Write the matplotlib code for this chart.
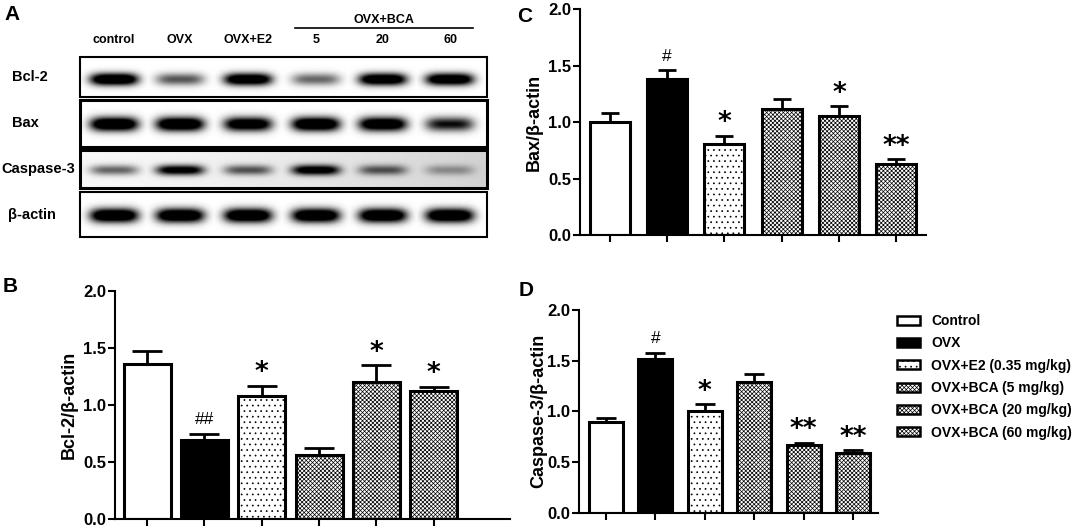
import numpy as np
import matplotlib
matplotlib.use("Agg")
import matplotlib.pyplot as plt
from matplotlib.patches import Patch, Rectangle

plt.rcParams["font.family"] = ["Liberation Sans", "DejaVu Sans"]
plt.rcParams["font.weight"] = "bold"
plt.rcParams["axes.labelweight"] = "bold"
plt.rcParams["hatch.linewidth"] = 0.5

FW, FH = 1072, 528

# groups
groups = ["Control", "OVX", "OVX+E2 (0.35 mg/kg)", "OVX+BCA (5 mg/kg)",
          "OVX+BCA (20 mg/kg)", "OVX+BCA (60 mg/kg)"]
faces = ["white", "black", "white", "white", "white", "white"]
hatches = [None, None, "...", "xxxxxxxx", "xxxxxxxx", "xxxxxxxx"]

# panel B: Bcl-2/β-actin
bcl2_mean = [1.36, 0.69, 1.08, 0.56, 1.20, 1.125]
bcl2_sem = [0.11, 0.06, 0.09, 0.065, 0.15, 0.035]
bcl2_sig = ["", "##", "*", "", "*", "*"]

# panel C: Bax/β-actin
bax_mean = [1.00, 1.385, 0.81, 1.115, 1.06, 0.63]
bax_sem = [0.08, 0.075, 0.07, 0.095, 0.08, 0.045]
bax_sig = ["", "#", "*", "", "*", "**"]

# panel D: Caspase-3/β-actin
casp_mean = [0.89, 1.52, 1.005, 1.29, 0.668, 0.592]
casp_sem = [0.045, 0.06, 0.067, 0.077, 0.023, 0.026]
casp_sig = ["", "#", "*", "", "**", "**"]

# panel A: western blot
lane_labels = ["control", "OVX", "OVX+E2", "5", "20", "60"]
row_labels = ["Bcl-2", "Bax", "Caspase-3", "β-actin"]
bcl2_band = [1.0, 0.45, 0.95, 0.40, 0.95, 0.95]
bax_band = [1.0, 1.0, 0.9, 1.0, 0.95, 0.65]
casp_band = [0.40, 0.80, 0.45, 0.85, 0.45, 0.25]
actin_band = [1.0, 1.0, 1.0, 1.0, 1.0, 1.0]


def fx(px):
    return px / FW


def fy(py):
    return 1 - py / FH


fig = plt.figure(figsize=(FW / 100, FH / 100), dpi=100)

# ---- panel A: blot ----
axa = fig.add_axes([0, fy(270), fx(520), 270 / FH])
axa.set_xlim(0, 520)
axa.set_ylim(270, 0)
axa.axis("off")

lanes_x = [114, 180, 248, 316, 383, 450]
strips = [(57.3, 96.7, 79.3, 6.0, bcl2_band, 1.5),
          (100, 146.7, 124, 7.0, bax_band, 2.2),
          (150, 188.3, 170.7, 5.0, casp_band, 2.2),
          (191.7, 237.3, 216, 7.0, actin_band, 1.5)]
label_x = [12, 12, 1, 8]
x0, x1 = 80, 487
for i, (top, bot, cy, hh, band, lw) in enumerate(strips):
    xs = np.linspace(x0, x1, 600)
    ys = np.linspace(top, bot, 80)
    X, Y = np.meshgrid(xs, ys)
    dark = np.zeros_like(X)
    for lx, b in zip(lanes_x, band):
        shape = np.exp(-np.abs((X - lx) / 24.0) ** 4) * np.exp(-((Y - cy) / hh) ** 2)
        dark = np.maximum(dark, np.clip(1.5 * b * shape, 0, 1))
    bg = np.ones_like(X)
    if i == 2:
        bg = 0.97 - 0.15 * ((X - x0) / (x1 - x0)) ** 1.5
    img = bg * (1 - dark)
    axa.imshow(img, cmap="gray", vmin=0, vmax=1, extent=(x0, x1, bot, top),
               aspect="auto", interpolation="bilinear")
    axa.add_patch(Rectangle((x0, top), x1 - x0, bot - top, fill=False,
                            edgecolor="black", linewidth=lw))
    axa.text(label_x[i], (top + bot) / 2, row_labels[i],
             ha="left", va="center", fontsize=10.5)

for lx, lab in zip(lanes_x, lane_labels):
    axa.text(lx, 40, lab, ha="center", va="center", fontsize=9)
axa.plot([295, 473], [28, 28], color="black", linewidth=1.2)
axa.text(384, 20, "OVX+BCA", ha="center", va="center", fontsize=9)


# ---- bar panels ----
def bar_panel(rect, mean, sem, sig, width, cap, xlim, ylabel, lab_x):
    ax = fig.add_axes(rect)
    x = np.arange(len(mean))
    ax.bar(x, mean, width=width, color=faces, edgecolor="black",
           hatch=hatches, linewidth=2.2, zorder=2)
    ax.errorbar(x, mean, yerr=[np.zeros(len(sem)), sem], fmt="none",
                ecolor="black", elinewidth=2, capsize=cap, capthick=2, zorder=3)
    for xi, m, s, t in zip(x, mean, sem, sig):
        if not t:
            continue
        if "#" in t:
            ax.annotate(t, (xi, m + s), xytext=(0, 10), textcoords="offset points",
                        ha="center", va="center", fontsize=12.5, fontweight="normal")
        else:
            ax.annotate(t, (xi, m + s), xytext=(0, 9), textcoords="offset points",
                        ha="center", va="center", fontsize=19,
                        family="DejaVu Sans", fontweight="bold")
    ax.set_xlim(*xlim)
    ax.set_ylim(0, 2.0)
    ax.set_yticks([0, 0.5, 1.0, 1.5, 2.0])
    ax.set_yticklabels([f"{v:.1f}" for v in [0, 0.5, 1.0, 1.5, 2.0]], fontsize=12)
    ax.set_xticks(x)
    ax.set_xticklabels([])
    ax.tick_params(length=5, width=1.5, direction="out")
    ax.tick_params(axis="y", pad=1.5)
    for s in ["top", "right"]:
        ax.spines[s].set_visible(False)
    for s in ["left", "bottom"]:
        ax.spines[s].set_linewidth(1.5)
    ax.set_ylabel(ylabel, fontsize=13)
    ax.yaxis.set_label_coords(lab_x, 0.5)
    return ax


bar_panel([fx(115), fy(519), fx(510 - 115), 228 / FH], bcl2_mean, bcl2_sem,
          bcl2_sig, 0.82, 11, (-0.56, 6.33), "Bcl-2/β-actin", -0.094)
bar_panel([fx(580), fy(235.3), fx(346), 226 / FH], bax_mean, bax_sem,
          bax_sig, 0.70, 6.5, (-0.52, 5.52), "Bax/β-actin", -0.107)
axd = bar_panel([fx(579.3), fy(512.7), fx(299), 202.7 / FH], casp_mean, casp_sem,
                casp_sig, 0.69, 7, (-0.54, 5.51), "Caspase-3/β-actin", -0.108)

handles = [Patch(facecolor=f, edgecolor="black", hatch=h, linewidth=1.8)
           for f, h in zip(faces, hatches)]
fig.legend(handles, groups, loc="upper left", bbox_to_anchor=(fx(896.7), fy(314)),
           frameon=False, fontsize=10, handlelength=1.65, handleheight=0.6,
           handletextpad=0.85, labelspacing=0.6, borderpad=0, borderaxespad=0)

# panel letters
for lab, px, py in [("A", 12, 15), ("B", 10, 286), ("C", 525, 16), ("D", 526, 290)]:
    fig.text(fx(px), fy(py), lab, ha="center", va="center", fontsize=15)

fig.savefig("out.png", dpi=100, facecolor="white")
